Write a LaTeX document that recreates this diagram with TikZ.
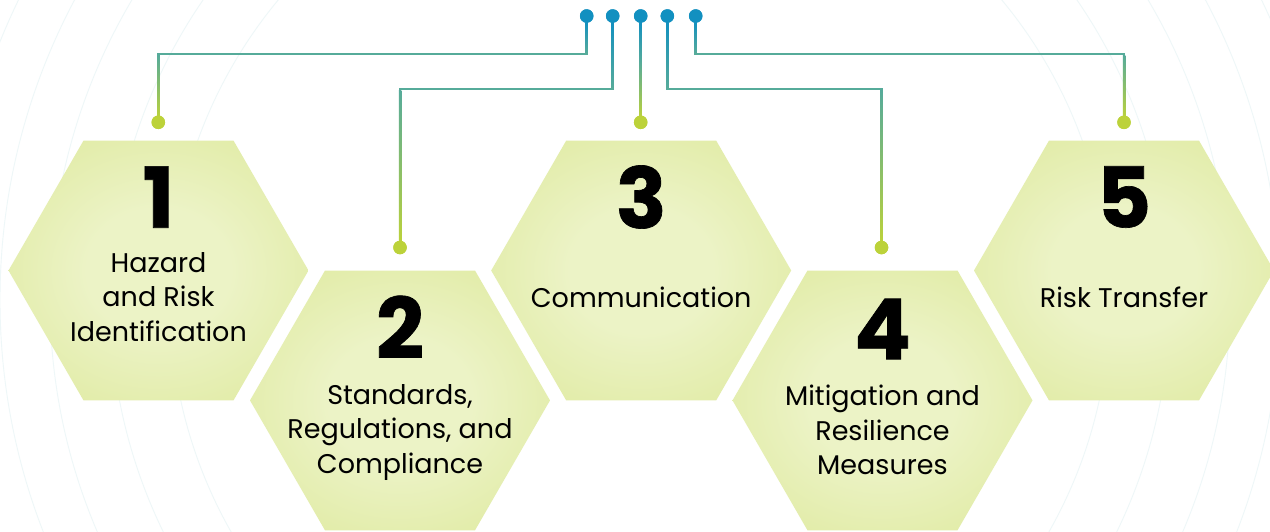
\documentclass[tikz,border=0pt]{standalone}
\usepackage{fontspec}
\setmainfont{Poppins}
\newfontfamily\numfont{Poppins}[BoldFeatures={FakeBold=0.8}]
\definecolor{cblue}{HTML}{1290C0}
\definecolor{cteal}{HTML}{56AB9A}
\definecolor{cgreen}{HTML}{BCD23A}
\definecolor{hexin}{HTML}{ECF3C6}
\definecolor{hexout}{HTML}{D5E383}
\definecolor{bgl}{HTML}{EEF7F8}
\pgfdeclareradialshading[hexin,hexout]{hexshade}{\pgfpoint{0bp}{0bp}}{color(0bp)=(hexin); color(12bp)=(hexin); color(50bp)=(hexout)}
\tikzset{
  hexfill/.style={shading=hexshade},
  numtxt/.style={font=\fontsize{84}{84}\numfont\bfseries, text=black, inner sep=0pt},
  lbl/.style={font=\fontsize{27}{34.5}\selectfont, align=center, text=black, inner sep=0pt},
  bdot/.style={circle, fill=cblue, minimum size=13.5pt, inner sep=0pt},
  gdot/.style={circle, fill=cgreen, minimum size=13.5pt, inner sep=0pt},
  conn/.style={draw=cteal, line width=2.5pt},
  bgline/.style={draw=bgl, line width=0.9pt}
}
\begin{document}
\begin{tikzpicture}[x=1pt,y=-1pt]
\useasboundingbox (0,0) rectangle (1270,531);
\fill[white] (0,0) rectangle (1270,531);
% faint background contours
\begin{scope}
\clip (0,0) rectangle (1270,531);
\foreach \r in {470,530,590,640,690,740,790} {
  \draw[bgline] (640,300) circle[radius=\r pt];
}
\end{scope}
% hexagons
\foreach \i/\x/\y in {1/158.5/270.5, 2/400/400.4, 3/641.2/270.5, 4/882.5/400.4, 5/1124/270.5} {
  \coordinate (c\i) at (\x,\y);
  \shade[hexfill] (\x+150,\y) -- (\x+75,\y+129.9) -- (\x-75,\y+129.9) -- (\x-150,\y) -- (\x-75,\y-129.9) -- (\x+75,\y-129.9) -- cycle;
}
% numbers and labels
\node[numtxt] (n1) at (158.5,197) {1};
\node[lbl] (l1) at (158.5,297) {Hazard\\and Risk\\Identification};
\node[numtxt] (n2) at (400,327) {2};
\node[lbl] (l2) at (400,432.5) {Standards,\\Regulations, and\\Compliance};
\node[numtxt] (n3) at (641.2,197) {3};
\node[lbl] (l3) at (641.2,297) {Communication};
\node[numtxt] (n4) at (882.5,329) {4};
\node[lbl] (l4) at (882.5,430) {Mitigation and\\Resilience\\Measures};
\node[numtxt] (n5) at (1124,197) {5};
\node[lbl] (l5) at (1124,297) {Risk Transfer};
% dots
\node[bdot] (t1) at (586.7,16) {};
\node[bdot] (t2) at (612.7,16) {};
\node[bdot] (t3) at (640.7,16) {};
\node[bdot] (t4) at (667.3,16) {};
\node[bdot] (t5) at (695.7,16) {};
\node[gdot] (b1) at (158.3,122.3) {};
\node[gdot] (b2) at (400,247.5) {};
\node[gdot] (b3) at (640.7,122.3) {};
\node[gdot] (b4) at (881.5,247.5) {};
\node[gdot] (b5) at (1124,122.3) {};
\coordinate (k1) at (158.3,54);
\coordinate (k2) at (400,89);
\coordinate (k4) at (881.5,89);
\coordinate (k5) at (1124,54);
% connectors
\draw[conn] (t1.center) |- (k1) -- (b1.center);
\draw[conn] (t2.center) |- (k2) -- (b2.center);
\draw[conn] (t3.center) -- (b3.center);
\draw[conn] (t4.center) |- (k4) -- (b4.center);
\draw[conn] (t5.center) |- (k5) -- (b5.center);
% colour gradients along the vertical parts
\foreach \tx/\bx/\hy/\by in {586.7/158.3/54/122.3, 612.7/400/89/247.5, 667.3/881.5/89/247.5, 695.7/1124/54/122.3} {
  \shade[top color=cblue, bottom color=cteal] (\tx-1.25,22) rectangle (\tx+1.25,\hy-1.25);
  \shade[top color=cteal, bottom color=cgreen] (\bx-1.25,\hy+1.25) rectangle (\bx+1.25,\by-4);
}
\shade[top color=cblue, bottom color=cteal] (640.7-1.25,22) rectangle (640.7+1.25,62);
\shade[top color=cteal, bottom color=cgreen] (640.7-1.25,62) rectangle (640.7+1.25,118);
% redraw dots on top
\foreach \n in {t1,t2,t3,t4,t5} \fill[cblue] (\n) circle[radius=6.75pt];
\foreach \n in {b1,b2,b3,b4,b5} \fill[cgreen] (\n) circle[radius=6.75pt];
\end{tikzpicture}
\end{document}
